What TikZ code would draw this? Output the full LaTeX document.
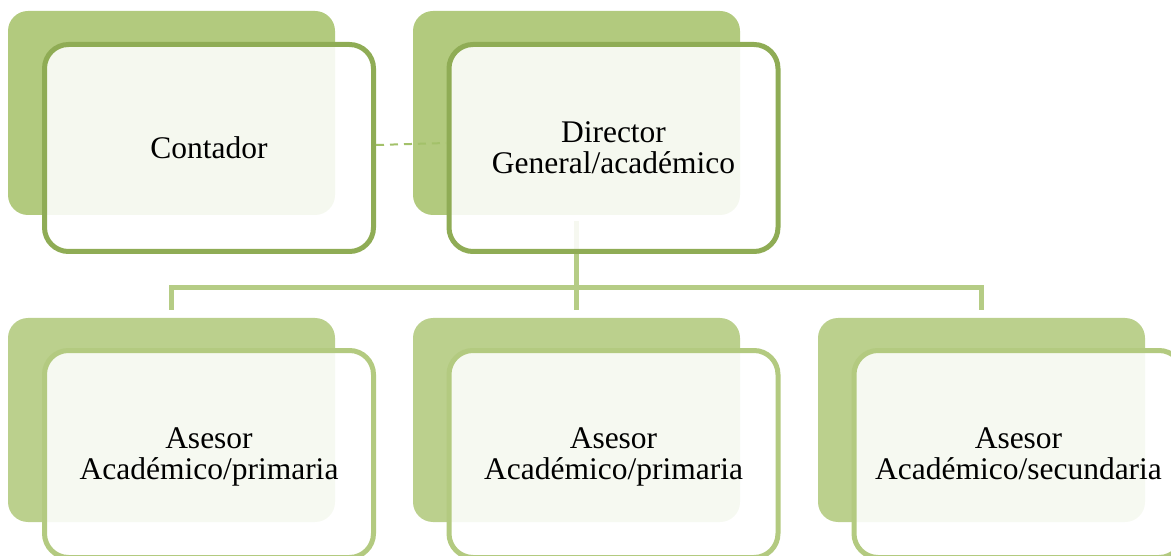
\documentclass[tikz,border=0pt]{standalone}
\usepackage{fontspec}
\setmainfont{Liberation Serif}
\definecolor{fondoalto}{HTML}{B2CA7E}
\definecolor{fondobajo}{HTML}{BBD08D}
\definecolor{bordealto}{HTML}{8FAC55}
\definecolor{bordebajo}{HTML}{B3CA80}
\definecolor{enlace}{HTML}{B5CC85}
\definecolor{trazo}{HTML}{A3C16A}

\begin{document}
\begin{tikzpicture}[x=1pt,y=-1pt,
    fondo/.style={fill=#1,rounded corners=20pt,minimum width=327pt,minimum height=204pt,inner sep=0pt},
    caja/.style={draw=#1,line width=5pt,fill=white,fill opacity=0.88,text opacity=1,rounded corners=24pt,
        minimum width=329pt,minimum height=207pt,align=center,text depth=0pt,font=\fontsize{31.5}{31}\selectfont},
    rama/.style={draw=enlace,line width=5pt,shorten <=6pt,shorten >=8pt}]
    \useasboundingbox (0,0) rectangle (1171,556);

    \node[fondo=fondoalto] (cf) at (171.5,113) {};
    \node[fondo=fondoalto] (df) at (576.5,113) {};
    \node[fondo=fondobajo] (af) at (171.5,420) {};
    \node[fondo=fondobajo] (bf) at (576.5,420) {};
    \node[fondo=fondobajo] (sf) at (981.5,420) {};

    \draw[rama] (df.south) -- ++(0,72) -| (af.north);
    \draw[rama] (df.south) -- (bf.north);
    \draw[rama] (df.south) -- ++(0,72) -| (sf.north);

    \node[caja=bordealto] (c) at (209,148) {Contador};
    \node[caja=bordealto] (d) at (613.5,148) {Director\\General/académico};
    \node[caja=bordebajo] (a) at (209,454) {Asesor\\Académico/primaria};
    \node[caja=bordebajo] (b) at (613.5,454) {Asesor\\Académico/primaria};
    \node[caja=bordebajo] (s) at (1018.5,454) {Asesor\\Académico/secundaria};

    \draw[trazo,line width=2pt,dash pattern=on 8pt off 6pt] ([yshift=3]c.east) -- ([yshift=5]d.west);
\end{tikzpicture}
\end{document}
